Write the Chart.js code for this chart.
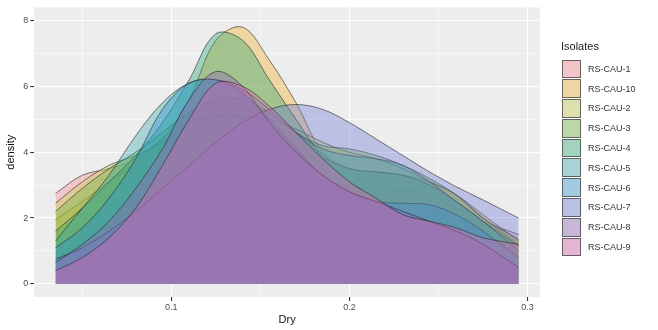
<!DOCTYPE html>
<html>
<head>
<meta charset="utf-8">
<script src="https://cdn.jsdelivr.net/npm/chart.js@4.4.1/dist/chart.umd.min.js"></script>
<style>
  html, body { margin: 0; padding: 0; background: #fff; }
  #wrap { position: relative; width: 658px; height: 330px; font-family: "Liberation Sans", Arial, sans-serif; }
  #chart { position: absolute; left: 0; top: 0; }
  #legend { position: absolute; left: 557px; top: 40px; }
  #legend .title { font-size: 11px; color: #222; margin: 0 0 7px 4px; }
  #legend .row { display: flex; align-items: center; height: 19.8px; }
  #legend .key { width: 19px; height: 18.8px; box-sizing: border-box; border: 1px solid rgba(60,60,60,0.75); margin-left: 5px; }
  #legend .lab { font-size: 9px; color: #333; margin-left: 7px; }
</style>
</head>
<body>
<div id="wrap">
  <canvas id="chart" width="658" height="330"></canvas>
  <div id="legend"></div>
</div>
<script>
// grid of Dry values where each density was read
const dry = [0.035, 0.05, 0.065, 0.08, 0.095, 0.11, 0.125, 0.14, 0.155, 0.17, 0.185, 0.2, 0.215, 0.23, 0.245, 0.26, 0.275, 0.295];

const isolates = ['RS-CAU-1', 'RS-CAU-10', 'RS-CAU-2', 'RS-CAU-3', 'RS-CAU-4', 'RS-CAU-5', 'RS-CAU-6', 'RS-CAU-7', 'RS-CAU-8', 'RS-CAU-9'];

const cau1  = [2.75, 3.3, 3.5, 3.8, 4.4, 4.95, 5.1, 5.05, 4.6, 4.0, 3.3, 2.95, 2.9, 2.85, 2.7, 2.3, 1.9, 1.5];
const cau10 = [1.95, 2.5, 3.1, 3.7, 4.4, 5.6, 7.4, 7.8, 6.8, 5.5, 4.0, 3.5, 3.4, 3.3, 3.1, 2.7, 2.1, 1.3];
const cau2  = [2.45, 3.1, 3.6, 3.9, 4.3, 4.8, 5.1, 5.1, 5.0, 4.7, 4.3, 4.0, 3.8, 3.5, 3.1, 2.7, 2.0, 1.2];
const cau3  = [2.2, 2.9, 3.5, 4.0, 4.6, 5.2, 5.6, 5.6, 5.2, 4.6, 4.2, 4.1, 3.9, 3.6, 3.2, 2.7, 2.0, 1.35];
const cau4  = [1.6, 2.3, 3.1, 3.9, 4.9, 6.2, 7.6, 7.4, 6.2, 5.0, 3.9, 3.5, 3.4, 3.3, 3.0, 2.5, 1.9, 1.15];
const cau5  = [1.3, 2.3, 3.3, 4.5, 5.5, 6.1, 6.2, 5.9, 5.3, 4.6, 4.1, 3.9, 3.8, 3.6, 3.1, 2.5, 1.9, 1.0];
const cau6  = [1.1, 1.7, 2.6, 3.8, 5.3, 6.1, 6.2, 5.8, 5.0, 4.1, 3.3, 2.8, 2.5, 2.45, 2.4, 2.1, 1.6, 0.8];
const cau7  = [0.75, 1.1, 1.6, 2.2, 2.9, 3.6, 4.3, 4.9, 5.3, 5.45, 5.3, 4.9, 4.4, 3.9, 3.4, 2.95, 2.55, 2.0];
const cau8  = [0.65, 1.2, 1.9, 2.9, 4.1, 5.6, 6.45, 6.0, 4.9, 4.0, 3.3, 2.8, 2.5, 2.2, 1.9, 1.6, 1.2, 0.5];
const cau9  = [0.4, 0.8, 1.4, 2.3, 3.6, 5.0, 6.1, 6.0, 5.4, 4.6, 3.8, 3.1, 2.6, 2.1, 1.9, 1.7, 1.4, 1.2];

const series = [cau1, cau10, cau2, cau3, cau4, cau5, cau6, cau7, cau8, cau9];

const yTicks = [0, 1, 2, 3, 4, 5, 6, 7, 8];
const xTicks = [0.05, 0.1, 0.15, 0.2, 0.25, 0.3];

const colors = [
  [248, 140, 150], [240, 178, 50], [200, 204, 80], [110, 185, 60], [40, 165, 110],
  [50, 165, 170], [40, 145, 205], [115, 125, 210], [145, 100, 185], [215, 100, 175]
];
const alphas = [0.4, 0.4, 0.4, 0.4, 0.38, 0.36, 0.38, 0.4, 0.4, 0.4];
const rgba = (c, a) => `rgba(${c[0]},${c[1]},${c[2]},${a})`;

const isMajorX = (v) => Math.abs(v * 10 - Math.round(v * 10)) < 1e-6;
const isMajorY = (v) => v % 2 === 0;

const datasets = isolates.map((name, i) => ({
  label: name,
  data: dry.map((x, j) => ({ x, y: series[i][j] })),
  backgroundColor: rgba(colors[i], alphas[i]),
  borderColor: 'rgba(45,45,45,0.7)',
  borderWidth: 0.9,
  pointRadius: 0,
  fill: 'origin',
  tension: 0.35,
  order: isolates.length - i, // ggplot draws first level at the bottom
}));

const panelBg = {
  id: 'panelBg',
  beforeDraw(chart) {
    const { ctx, chartArea: a } = chart;
    ctx.save();
    ctx.fillStyle = '#EDEDED';
    ctx.fillRect(a.left, a.top, a.right - a.left, a.bottom - a.top);
    ctx.restore();
  }
};

new Chart(document.getElementById('chart'), {
  type: 'line',
  data: { datasets },
  plugins: [panelBg],
  options: {
    responsive: false,
    animation: false,
    devicePixelRatio: 1,
    layout: { padding: { left: 4, right: 118, top: 5, bottom: 3 } },
    plugins: { legend: { display: false }, tooltip: { enabled: false } },
    scales: {
      x: {
        type: 'linear',
        min: 0.023,
        max: 0.307,
        afterBuildTicks: (s) => { s.ticks = xTicks.map((v) => ({ value: v })); },
        ticks: {
          autoSkip: false, maxRotation: 0, padding: 1,
          color: '#4d4d4d', font: { size: 9, family: 'Liberation Sans' },
          callback: (v) => (isMajorX(v) ? String(Math.round(v * 10) / 10) : ''),
        },
        grid: {
          color: '#ffffff',
          lineWidth: (c) => (c.tick && isMajorX(c.tick.value) ? 1.1 : 0.55),
          tickColor: (c) => (c.tick && isMajorX(c.tick.value) ? '#333333' : 'rgba(0,0,0,0)'),
          tickLength: 4,
        },
        border: { display: false },
        title: { display: true, text: 'Dry', color: '#111', font: { size: 11, family: 'Liberation Sans' }, padding: { top: 0, bottom: 0 } },
      },
      y: {
        min: -0.4,
        max: 8.4,
        afterBuildTicks: (s) => { s.ticks = yTicks.map((v) => ({ value: v })); },
        ticks: {
          autoSkip: false, padding: 2,
          color: '#4d4d4d', font: { size: 9, family: 'Liberation Sans' },
          callback: (v) => (isMajorY(v) ? String(v) : ''),
        },
        grid: {
          color: '#ffffff',
          lineWidth: (c) => (c.tick && isMajorY(c.tick.value) ? 1.1 : 0.55),
          tickColor: (c) => (c.tick && isMajorY(c.tick.value) ? '#333333' : 'rgba(0,0,0,0)'),
          tickLength: 4,
        },
        border: { display: false },
        title: { display: true, text: 'density', color: '#111', font: { size: 11, family: 'Liberation Sans' }, padding: { top: 0, bottom: 4 } },
      },
    },
  },
});

// legend, drawn as html next to the panel
const legend = document.getElementById('legend');
legend.innerHTML = '<div class="title">Isolates</div>' + isolates.map((name, i) => `
  <div class="row">
    <div class="key" style="background: linear-gradient(${rgba(colors[i], alphas[i])}, ${rgba(colors[i], alphas[i])}), #EDEDED;"></div>
    <div class="lab">${name}</div>
  </div>`).join('');
</script>
</body>
</html>
